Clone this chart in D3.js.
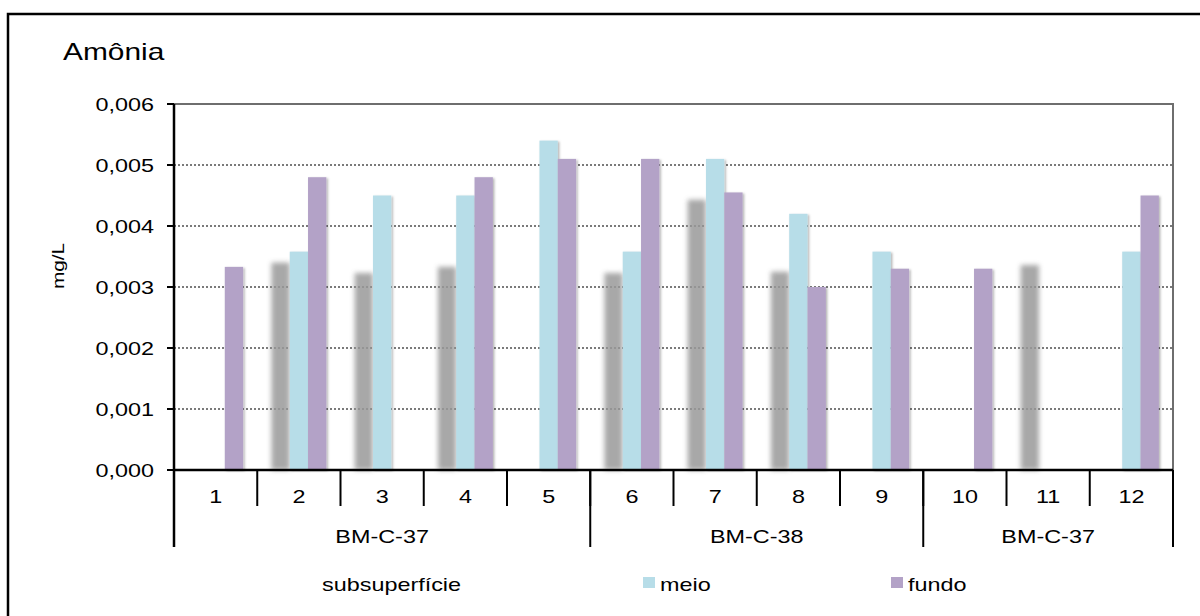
<!DOCTYPE html>
<html>
<head>
<meta charset="utf-8">
<script src="https://cdn.jsdelivr.net/npm/d3@7"></script>
<style>
  html, body { margin: 0; padding: 0; background: #fff; }
  svg { display: block; font-family: "Liberation Sans", Arial, sans-serif; }
</style>
</head>
<body>
<svg id="chart" width="1200" height="616"></svg>
<script>
// Ammonia concentration per sampling station and depth
const categories = ["1", "2", "3", "4", "5", "6", "7", "8", "9", "10", "11", "12"];
const seriesNames = ["subsuperfície", "meio", "fundo"];
const subsuperficie = [null, 0.0034, 0.00323, 0.00333, null, 0.00323, 0.00443, 0.00325, null, null, 0.00336, null];
const meio = [null, 0.00358, 0.0045, 0.0045, 0.0054, 0.00358, 0.0051, 0.0042, 0.00358, null, null, 0.00358];
const fundo = [0.00333, 0.0048, null, 0.0048, 0.0051, 0.0051, 0.00455, 0.0030, 0.0033, 0.0033, null, 0.0045];
const groupLabels = ["BM-C-37", "BM-C-38", "BM-C-37"];
const groupSizes = [5, 4, 3];
const yTicks = [0, 0.001, 0.002, 0.003, 0.004, 0.005, 0.006];

const seriesValues = [subsuperficie, meio, fundo];
const colors = { "subsuperfície": "#999999", "meio": "#b7dde8", "fundo": "#b3a2c7" };

const svg = d3.select("#chart");
const SX = 1.3; // wide lettering

const plotLeft = 174, plotRight = 1173, plotTop = 104, plotBottom = 470;

const x0 = d3.scaleBand().domain(categories).range([plotLeft, plotRight]).paddingInner(0).paddingOuter(0);
const bw = x0.bandwidth();
const x1 = d3.scaleBand().domain(seriesNames).range([bw * 0.17, bw * 0.83]).padding(0);
const y = d3.scaleLinear().domain([0, 0.006]).range([plotBottom, plotTop]);

// filters
const defs = svg.append("defs");
const blur = defs.append("filter").attr("id", "soft").attr("x", "-50%").attr("y", "-10%").attr("width", "200%").attr("height", "120%");
blur.append("feGaussianBlur").attr("stdDeviation", 2.4);
const shadow = defs.append("filter").attr("id", "shadow").attr("x", "-30%").attr("y", "-5%").attr("width", "160%").attr("height", "110%");
shadow.append("feDropShadow").attr("dx", 1.5).attr("dy", 1).attr("stdDeviation", 1.3).attr("flood-color", "#000").attr("flood-opacity", 0.3);

function wideText(g, x, yy, str, size, anchor, rotate) {
  return g.append("text")
    .attr("transform", `translate(${x},${yy})` + (rotate ? ` rotate(${rotate})` : "") + ` scale(${SX},1)`)
    .attr("font-size", size)
    .attr("fill", "#000")
    .attr("text-anchor", anchor || "start")
    .text(str);
}

// outer frame
svg.append("rect").attr("x", 8).attr("y", 14).attr("width", 1260).attr("height", 700)
  .attr("fill", "none").attr("stroke", "#000").attr("stroke-width", 2.5);

// title
wideText(svg, 63, 60, "Amônia", 23, "start");

// gridlines
svg.append("g").selectAll("line").data(yTicks.filter(d => d > 0)).join("line")
  .attr("x1", plotLeft).attr("x2", plotRight)
  .attr("y1", d => y(d)).attr("y2", d => y(d))
  .attr("stroke", "#7a7a7a").attr("stroke-width", 2).attr("stroke-dasharray", "2,2");

// plot frame top and right
svg.append("path")
  .attr("d", `M${plotLeft},${plotTop}H${plotRight}V${plotBottom}`)
  .attr("fill", "none").attr("stroke", "#6e6e6e").attr("stroke-width", 2);

// bars
const barData = [];
seriesNames.forEach((s, si) => {
  seriesValues[si].forEach((v, ci) => {
    if (v != null) barData.push({ series: s, cat: categories[ci], value: v });
  });
});

svg.append("g").selectAll("rect").data(barData.filter(d => d.series === "subsuperfície")).join("rect")
  .attr("x", d => x0(d.cat) + x1(d.series))
  .attr("y", d => y(d.value))
  .attr("width", x1.bandwidth())
  .attr("height", d => plotBottom - y(d.value))
  .attr("fill", colors["subsuperfície"])
  .attr("opacity", 0.85)
  .attr("filter", "url(#soft)");

svg.append("g").selectAll("rect").data(barData.filter(d => d.series !== "subsuperfície")).join("rect")
  .attr("x", d => x0(d.cat) + x1(d.series))
  .attr("y", d => y(d.value))
  .attr("width", x1.bandwidth())
  .attr("height", d => plotBottom - y(d.value))
  .attr("fill", d => colors[d.series])
  .attr("filter", "url(#shadow)");

// y axis
const yAxis = svg.append("g");
yAxis.append("line").attr("x1", plotLeft).attr("x2", plotLeft).attr("y1", plotTop).attr("y2", 547)
  .attr("stroke", "#000").attr("stroke-width", 2.5);
yAxis.selectAll("line.tick").data(yTicks).join("line").attr("class", "tick")
  .attr("x1", plotLeft - 7).attr("x2", plotLeft).attr("y1", d => y(d)).attr("y2", d => y(d))
  .attr("stroke", "#000").attr("stroke-width", 2);
const fmt = d => d3.format(".3f")(d).replace(".", ",");
yTicks.forEach(t => wideText(yAxis, 154, y(t) + 6.5, fmt(t), 18, "end"));

// y axis title
wideText(svg, 64, 266, "mg/L", 16, "middle", -90);

// x axis
const xAxis = svg.append("g");
xAxis.append("line").attr("x1", plotLeft).attr("x2", plotRight).attr("y1", plotBottom).attr("y2", plotBottom)
  .attr("stroke", "#000").attr("stroke-width", 2.5);
categories.forEach((c, i) => {
  if (i > 0) {
    xAxis.append("line").attr("x1", x0(c)).attr("x2", x0(c)).attr("y1", plotBottom).attr("y2", 506)
      .attr("stroke", "#000").attr("stroke-width", 2);
  }
  wideText(xAxis, x0(c) + bw / 2, 503, c, 18, "middle");
});
// group separators and labels
let start = 0;
groupLabels.forEach((g, gi) => {
  const end = start + groupSizes[gi];
  const xs = x0(categories[start]);
  const xe = end < categories.length ? x0(categories[end]) : plotRight;
  xAxis.append("line").attr("x1", xe).attr("x2", xe).attr("y1", plotBottom).attr("y2", 547)
    .attr("stroke", "#000").attr("stroke-width", 2);
  wideText(xAxis, (xs + xe) / 2, 543, g, 18, "middle");
  start = end;
});

// legend
const legend = svg.append("g");
const legendX = [322, 643, 891];
seriesNames.forEach((s, i) => {
  if (s === "subsuperfície") {
    wideText(legend, legendX[i], 591, s, 18, "start");
  } else {
    legend.append("rect").attr("x", legendX[i]).attr("y", 577).attr("width", 12).attr("height", 11)
      .attr("fill", colors[s]);
    wideText(legend, legendX[i] + 17, 591, s, 18, "start");
  }
});
</script>
</body>
</html>
